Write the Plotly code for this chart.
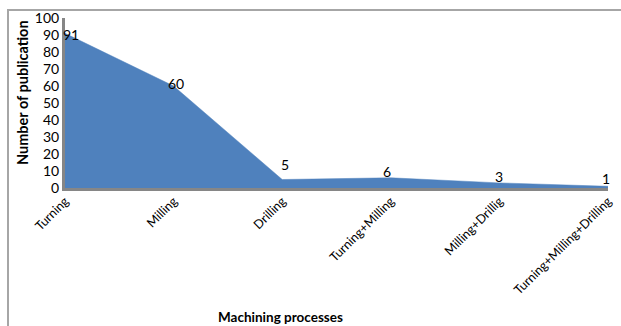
import plotly.graph_objects as go

# Publications per machining process
categories = ["Turning", "Milling", "Drilling", "Turning+Milling",
              "Milling+Drillig", "Turning+Milling+Drilling"]
publications = [91, 60, 5, 6, 3, 1]
y_ticks = [0, 10, 20, 30, 40, 50, 60, 70, 80, 90, 100]

# pixel nudges for the value labels (x, y)
label_shift = [(6, -1), (2, 3), (3, 15), (-4, 6), (0, 6), (-2, 8)]

FONT = "Lato"
W, H = 621, 326
L, R, T, B = 65, 13, 18, 138
plot_w = W - L - R
plot_h = H - T - B


def px_to_paper(px, py):
    return (px - L) / plot_w, (H - B - py) / plot_h


xs = list(range(len(categories)))

fig = go.Figure()
fig.add_trace(go.Scatter(
    x=xs, y=publications, mode="lines", fill="tozeroy",
    fillcolor="#4F81BD", line=dict(color="#4F81BD", width=0.5),
    hoverinfo="skip", showlegend=False,
))

for i, (v, (dx, dy)) in enumerate(zip(publications, label_shift)):
    fig.add_annotation(x=i, y=v, text=str(v), showarrow=False,
                       xshift=dx, yshift=dy,
                       font=dict(family=FONT, size=14, color="black"))

# axis titles
tx, ty = px_to_paper(280, 317)
fig.add_annotation(xref="paper", yref="paper", x=tx, y=ty,
                   xanchor="center", yanchor="middle",
                   text="<b>Machining processes</b>", showarrow=False,
                   font=dict(family=FONT, size=13.5, color="black"))
yx, yy = px_to_paper(22, 93)
fig.add_annotation(xref="paper", yref="paper", x=yx, y=yy,
                   xanchor="center", yanchor="middle",
                   text="<b>Number of publication</b>", showarrow=False,
                   textangle=-90,
                   font=dict(family=FONT, size=14.5, color="black"))

# chart frame
bx0, by1 = px_to_paper(8, 10)
bx1, by0 = px_to_paper(W + 20, H + 20)
fig.add_shape(type="rect", xref="paper", yref="paper",
              x0=bx0, x1=bx1, y0=by0, y1=by1,
              line=dict(color="#A6A6A6", width=2), layer="below")

fig.update_xaxes(
    range=[0, len(categories) - 1], tickvals=xs, ticktext=categories,
    tickangle=-45, showgrid=False, zeroline=False,
    showline=True, linecolor="#868686", linewidth=3,
    ticks="", ticklabelstandoff=-2,
    tickfont=dict(family=FONT, size=12.5, color="black"),
)
fig.update_yaxes(
    range=[0, 100], tickvals=y_ticks, showgrid=False, zeroline=False,
    showline=True, linecolor="#868686", linewidth=3,
    ticks="", ticklabelstandoff=0,
    tickfont=dict(family=FONT, size=14, color="black"),
)

fig.update_layout(
    width=W, height=H,
    margin=dict(l=L, r=R, t=T, b=B, autoexpand=False),
    paper_bgcolor="white", plot_bgcolor="white",
)

fig.write_html("out.html")
